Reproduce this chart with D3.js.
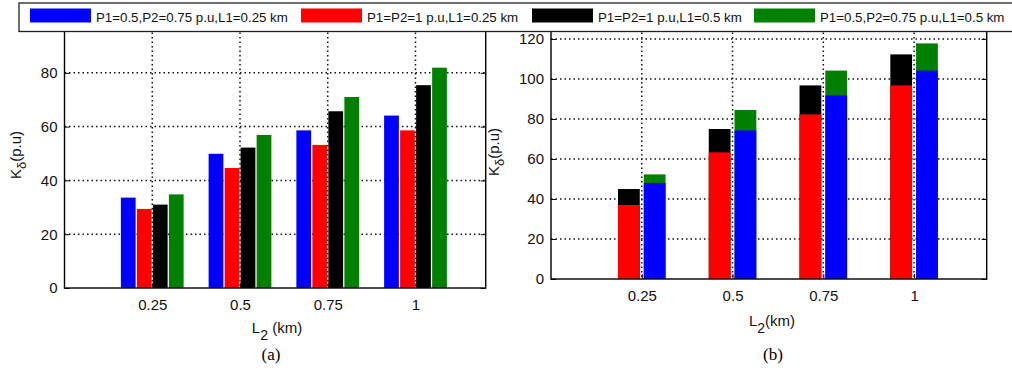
<!DOCTYPE html>
<html>
<head>
<meta charset="utf-8">
<script src="https://cdn.jsdelivr.net/npm/d3@7"></script>
<style>
  html, body { margin: 0; padding: 0; background: #fff; }
  svg { display: block; }
</style>
</head>
<body>
<svg id="chart" width="1012" height="373"></svg>
<script>
// L2 line lengths (km)
const categories = [0.25, 0.5, 0.75, 1];
const categoryLabels = ["0.25", "0.5", "0.75", "1"];

// Series names (shared legend)
const seriesNames = [
  "P1=0.5,P2=0.75 p.u,L1=0.25 km",
  "P1=P2=1 p.u,L1=0.25 km",
  "P1=P2=1 p.u,L1=0.5 km",
  "P1=0.5,P2=0.75 p.u,L1=0.5 km"
];
const seriesColors = ["#0000ff", "#ff0000", "#000000", "#008000"];

// Panel (a): K_delta values, grouped bars
const aBlue  = [33.6, 49.9, 58.6, 64.1];
const aRed   = [29.4, 44.6, 53.2, 58.6];
const aBlack = [31.0, 52.2, 65.7, 75.4];
const aGreen = [34.8, 56.9, 71.0, 81.9];
const aTicks = [0, 20, 40, 60, 80, 100];

// Panel (b): K_delta values, overlaid pairs
const bBlue  = [48.0, 74.3, 91.8, 104.2];
const bRed   = [37.0, 63.3, 82.3, 96.8];
const bBlack = [45.0, 75.0, 96.8, 112.3];
const bGreen = [52.3, 84.5, 104.2, 117.8];
const bTicks = [0, 20, 40, 60, 80, 100, 120];

const SANS = "'Liberation Sans', Arial, sans-serif";
const SERIF = "'Liberation Serif', 'Times New Roman', serif";

const svg = d3.select("#chart");

function panel(opts) {
  const x = d3.scaleLinear().domain([0, 1.2]).range([opts.left, opts.right]);
  const y = d3.scaleLinear().domain([0, opts.ymax]).range([opts.bottom, opts.top]);
  const g = svg.append("g").style("font-family", SANS);

  // dotted grid
  g.append("g").selectAll("line").data(opts.ticks.filter(t => t > 0)).join("line")
    .attr("x1", opts.left).attr("x2", opts.right)
    .attr("y1", d => y(d)).attr("y2", d => y(d))
    .attr("stroke", "#111").attr("stroke-width", 1.5).attr("stroke-dasharray", "1.5,3");
  g.append("g").selectAll("line").data(categories).join("line")
    .attr("x1", d => x(d)).attr("x2", d => x(d))
    .attr("y1", opts.top).attr("y2", opts.bottom)
    .attr("stroke", "#111").attr("stroke-width", 1.5).attr("stroke-dasharray", "1.5,3");

  opts.drawBars(g, x, y);

  // frame
  g.append("rect")
    .attr("x", opts.left).attr("y", opts.top)
    .attr("width", opts.right - opts.left).attr("height", opts.bottom - opts.top)
    .attr("fill", "none").attr("stroke", "#000").attr("stroke-width", 1.4);

  // axes with inward ticks
  const xAxis = d3.axisBottom(x).tickValues(categories)
    .tickFormat((d, i) => categoryLabels[i]).tickSizeInner(-5).tickSizeOuter(0).tickPadding(11);
  const gx = g.append("g").attr("transform", `translate(0,${opts.bottom})`).call(xAxis);
  gx.select(".domain").remove();
  gx.selectAll("text").style("font-size", "15px").style("font-family", SANS).attr("fill", "#111");

  const yAxis = d3.axisLeft(y).tickValues(opts.ticks).tickSizeInner(-5).tickSizeOuter(0).tickPadding(7);
  const gy = g.append("g").attr("transform", `translate(${opts.left},0)`).call(yAxis);
  gy.select(".domain").remove();
  gy.selectAll("text").style("font-size", "15px").style("font-family", SANS).attr("fill", "#111");

  const yAxisR = d3.axisRight(y).tickValues(opts.ticks).tickSizeInner(-5).tickSizeOuter(0).tickFormat("");
  const gyr = g.append("g").attr("transform", `translate(${opts.right},0)`).call(yAxisR);
  gyr.select(".domain").remove();

  // y label K_δ(p.u)
  const yl = g.append("text")
    .attr("transform", `translate(${opts.ylabX},${opts.ylabY}) rotate(-90)`)
    .attr("text-anchor", "middle").style("font-size", "15px").attr("fill", "#111");
  yl.append("tspan").text("K");
  yl.append("tspan").attr("dy", 5).style("font-size", "13px").text("δ");
  yl.append("tspan").attr("dy", -5).text("(p.u)");

  // x label L_2(km)
  const xl = g.append("text")
    .attr("x", opts.xlabX).attr("y", opts.xlabY)
    .attr("text-anchor", "middle").style("font-size", "15px").attr("fill", "#111");
  xl.append("tspan").text("L");
  xl.append("tspan").attr("dy", 7).style("font-size", "14px").text("2");
  xl.append("tspan").attr("dy", -7).text(opts.xlabGap + "(km)");

  // panel caption
  g.append("text")
    .attr("x", opts.capX).attr("y", 360)
    .attr("text-anchor", "middle")
    .style("font-family", SERIF)
    .style("font-size", "17px")
    .text(opts.caption);
}

// (a) four grouped bars per L2
panel({
  left: 64.5, right: 485.7, top: 19, bottom: 288, ymax: 100, ticks: aTicks,
  ylabX: 21, ylabY: 155, xlabX: 277, xlabY: 333, xlabGap: " ", capX: 271, caption: "(a)",
  drawBars(g, x, y) {
    const slot = 0.0456, w = 0.042;
    const series = [aBlue, aRed, aBlack, aGreen];
    series.forEach((vals, s) => {
      const off = (s - 1.5) * slot;
      g.append("g").selectAll("rect").data(vals).join("rect")
        .attr("x", (d, i) => x(categories[i] + off - w / 2))
        .attr("width", x(w) - x(0))
        .attr("y", d => y(d))
        .attr("height", d => y(0) - y(d))
        .attr("fill", seriesColors[s]);
    });
  }
});

// (b) two bars per L2: L1=0.25 km values drawn over L1=0.5 km values
panel({
  left: 551, right: 986.7, top: 19, bottom: 279, ymax: 130, ticks: bTicks,
  ylabX: 499, ylabY: 152, xlabX: 772, xlabY: 326, xlabGap: "", capX: 773, caption: "(b)",
  drawBars(g, x, y) {
    const off = 0.0355, w = 0.06;
    const layers = [
      { vals: bBlack, color: seriesColors[2], o: -off },
      { vals: bRed,   color: seriesColors[1], o: -off },
      { vals: bGreen, color: seriesColors[3], o: off },
      { vals: bBlue,  color: seriesColors[0], o: off }
    ];
    layers.forEach(L => {
      g.append("g").selectAll("rect").data(L.vals).join("rect")
        .attr("x", (d, i) => x(categories[i] + L.o - w / 2))
        .attr("width", x(w) - x(0))
        .attr("y", d => y(d))
        .attr("height", d => y(0) - y(d))
        .attr("fill", L.color);
    });
  }
});

// shared legend across the top
const legend = svg.append("g").style("font-family", SANS);
legend.append("rect")
  .attr("x", 19).attr("y", 3).attr("width", 1010).attr("height", 28.5)
  .attr("fill", "#fff").attr("stroke", "#222").attr("stroke-width", 1.3);
const swatchX = [30, 301, 532, 754];
seriesNames.forEach((name, i) => {
  legend.append("rect")
    .attr("x", swatchX[i]).attr("y", 8.5).attr("width", 61).attr("height", 14)
    .attr("fill", seriesColors[i]);
  legend.append("text")
    .attr("x", swatchX[i] + 66).attr("y", 22)
    .style("font-size", "13.3px").attr("fill", "#111")
    .text(name);
});
</script>
</body>
</html>
